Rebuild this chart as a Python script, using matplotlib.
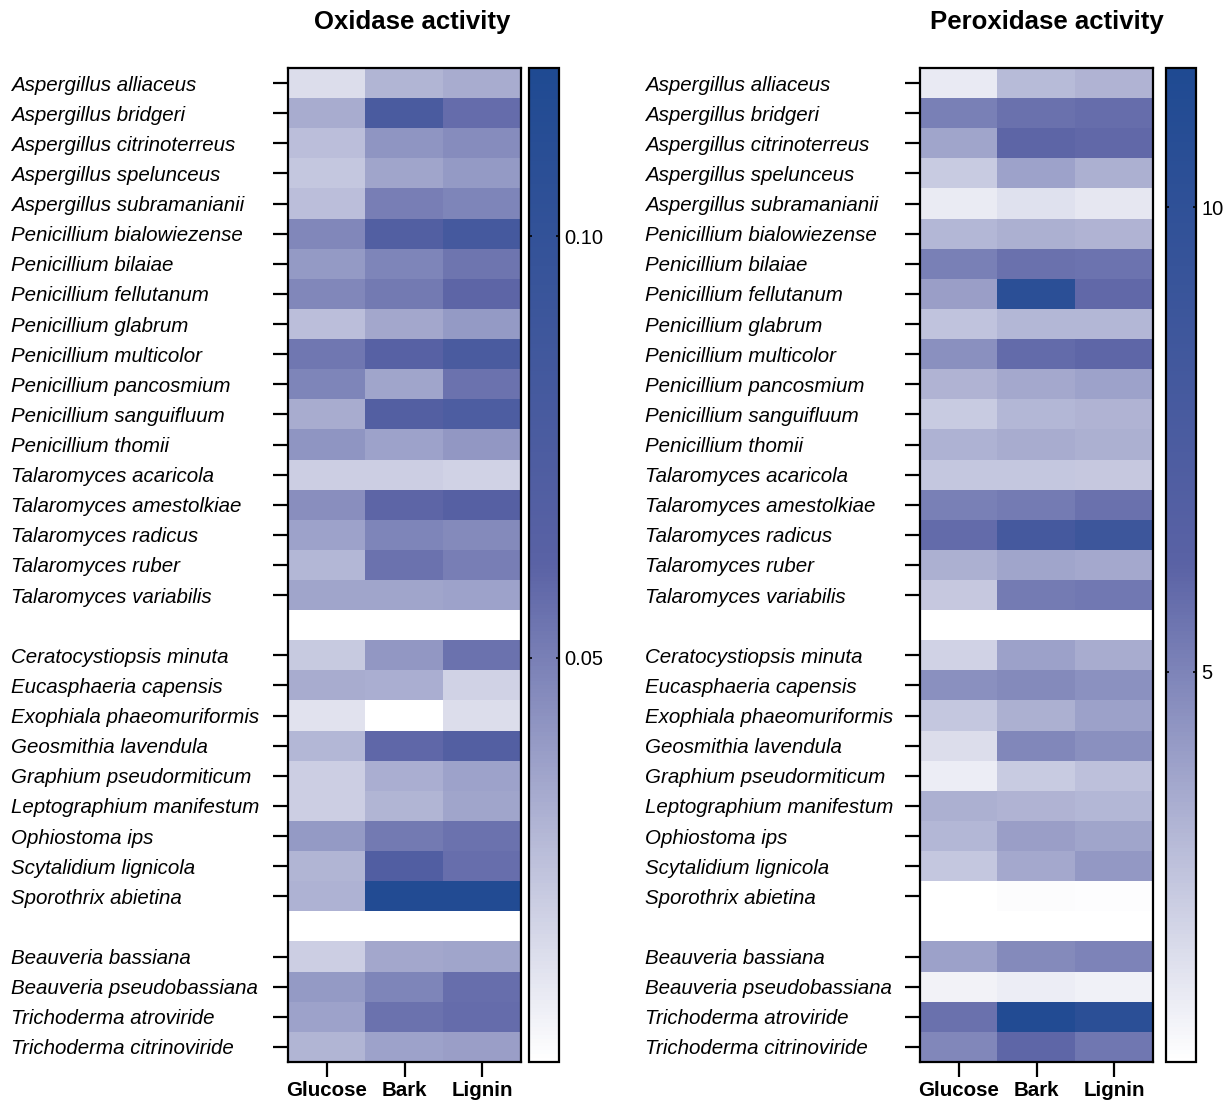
import numpy as np
import matplotlib
matplotlib.use('Agg')
import matplotlib.pyplot as plt
from matplotlib.colors import LinearSegmentedColormap

plt.rcParams['font.family'] = ['Liberation Sans', 'DejaVu Sans']

species = ['Aspergillus alliaceus', 'Aspergillus bridgeri', 'Aspergillus citrinoterreus',
           'Aspergillus spelunceus', 'Aspergillus subramanianii', 'Penicillium bialowiezense',
           'Penicillium bilaiae', 'Penicillium fellutanum', 'Penicillium glabrum',
           'Penicillium multicolor', 'Penicillium pancosmium', 'Penicillium sanguifluum',
           'Penicillium thomii', 'Talaromyces acaricola', 'Talaromyces amestolkiae',
           'Talaromyces radicus', 'Talaromyces ruber', 'Talaromyces variabilis',
           'Ceratocystiopsis minuta', 'Eucasphaeria capensis', 'Exophiala phaeomuriformis',
           'Geosmithia lavendula', 'Graphium pseudormiticum', 'Leptographium manifestum',
           'Ophiostoma ips', 'Scytalidium lignicola', 'Sporothrix abietina',
           'Beauveria bassiana', 'Beauveria pseudobassiana', 'Trichoderma atroviride',
           'Trichoderma citrinoviride']
substrates = ['Glucose', 'Bark', 'Lignin']

oxidase_glucose = [0.0145, 0.033, 0.026, 0.023, 0.026, 0.047, 0.040, 0.047, 0.026, 0.053,
                   0.048, 0.033, 0.042, 0.020, 0.044, 0.037, 0.029, 0.036,
                   0.022, 0.033, 0.013, 0.029, 0.020, 0.020, 0.040, 0.030, 0.031,
                   0.020, 0.040, 0.037, 0.030]
oxidase_bark = [0.030, 0.077, 0.042, 0.036, 0.050, 0.068, 0.048, 0.052, 0.035, 0.063,
                0.036, 0.067, 0.037, 0.020, 0.060, 0.048, 0.055, 0.036,
                0.041, 0.032, 0.002, 0.059, 0.032, 0.030, 0.052, 0.069, 0.116,
                0.035, 0.048, 0.055, 0.037]
oxidase_lignin = [0.033, 0.057, 0.045, 0.040, 0.048, 0.081, 0.054, 0.060, 0.040, 0.077,
                  0.055, 0.073, 0.041, 0.019, 0.065, 0.046, 0.050, 0.037,
                  0.055, 0.019, 0.0145, 0.067, 0.037, 0.036, 0.055, 0.056, 0.116,
                  0.036, 0.056, 0.057, 0.038]

peroxidase_glucose = [1.55, 5.11, 3.88, 2.59, 1.48, 3.23, 5.11, 4.07, 2.83, 4.59,
                      3.37, 2.59, 3.42, 2.72, 5.11, 5.83, 3.48, 2.65,
                      2.32, 4.59, 2.72, 1.93, 1.42, 3.48, 3.23, 2.72, 0.80,
                      4.01, 1.23, 5.62, 4.86]
peroxidase_bark = [3.10, 5.62, 6.04, 3.95, 1.81, 3.48, 5.62, 10.32, 3.23, 5.83,
                   3.75, 3.23, 3.62, 2.72, 5.29, 7.97, 3.88, 5.29,
                   4.01, 4.79, 3.48, 4.86, 2.59, 3.37, 4.07, 3.75, 0.91,
                   4.79, 1.42, 11.18, 6.01]
peroxidase_lignin = [3.37, 5.76, 5.94, 3.48, 1.61, 3.37, 5.56, 5.94, 3.23, 6.01,
                     3.95, 3.37, 3.48, 2.65, 5.62, 8.72, 3.75, 5.37,
                     3.62, 4.52, 4.01, 4.59, 2.97, 3.23, 3.88, 4.27, 0.85,
                     4.98, 1.28, 10.32, 5.43]

cmap = LinearSegmentedColormap.from_list('wb', ['#ffffff', '#5a62a5', '#1f4a92'])
cmap.set_bad('white')


def with_gaps(*cols):
    m = np.column_stack(cols)
    blank = np.full((1, m.shape[1]), np.nan)
    return np.vstack([m[:18], blank, m[18:27], blank, m[27:]])


tick_rows = [i for i in range(33) if i not in (18, 28)]

fig = plt.figure(figsize=(12.3, 11.02), dpi=100)
W, H = 1230, 1102


def box(x0, x1, y0, y1):
    return [x0 / W, 1 - y1 / H, (x1 - x0) / W, (y1 - y0) / H]


def panel(hm_box, cb_box, data, vmin, vmax, ticks, pad, title, title_x):
    ax = fig.add_axes(hm_box)
    cax = fig.add_axes(cb_box)
    im = ax.imshow(data, cmap=cmap, vmin=vmin, vmax=vmax, aspect='auto',
                   interpolation='nearest')
    ax.set_yticks(tick_rows)
    ax.set_yticklabels(species, fontstyle='italic', fontsize=14.8, ha='left')
    ax.tick_params(axis='y', length=11, width=1.6, pad=pad)
    ax.set_xticks(range(3))
    ax.set_xticklabels(substrates, fontweight='bold', fontsize=14.8)
    ax.tick_params(axis='x', length=11, width=1.6, pad=3)
    for s in ax.spines.values():
        s.set_linewidth(1.6)
    cb = fig.colorbar(im, cax=cax, ticks=ticks)
    cb.outline.set_linewidth(1.6)
    cax.tick_params(left=True, right=True, direction='in', length=2.5, width=1.2,
                    labelsize=14.5, pad=4)
    fig.text(title_x / W, 1 - 22 / H, title, ha='center', va='center',
             fontsize=18.5, fontweight='bold')


panel(box(288, 521, 68, 1062), box(529, 559, 68, 1062),
      with_gaps(oxidase_glucose, oxidase_bark, oxidase_lignin),
      0.002, 0.12, [0.05, 0.10], 188.5, 'Oxidase activity', 412)
panel(box(920, 1153, 68, 1062), box(1166, 1196, 68, 1062),
      with_gaps(peroxidase_glucose, peroxidase_bark, peroxidase_lignin),
      0.8, 11.5, [5, 10], 187.3, 'Peroxidase activity', 1047)

fig.savefig('out.png', dpi=100)
